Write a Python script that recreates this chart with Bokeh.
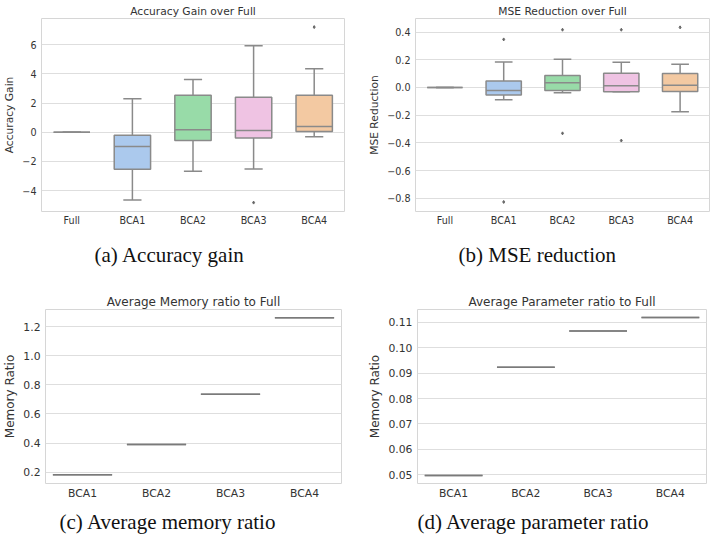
from bokeh.plotting import figure
from bokeh.layouts import column, row
from bokeh.models import ColumnDataSource, FactorRange, Range1d, FixedTicker, Title
from bokeh.transform import dodge
from bokeh.embed import file_html
from bokeh.resources import INLINE

# ---------------- data ----------------
box_cats = ["Full", "BCA1", "BCA2", "BCA3", "BCA4"]
box_colors = ["#abc9ed", "#abc9ed", "#98dba8", "#efc3e3", "#f3c9a2"]

acc_lo = [0.0, -4.65, -2.68, -2.52, -0.32]
acc_q1 = [0.0, -2.54, -0.57, -0.39, 0.05]
acc_med = [0.0, -0.98, 0.16, 0.11, 0.39]
acc_q3 = [0.0, -0.21, 2.54, 2.40, 2.54]
acc_hi = [0.0, 2.29, 3.62, 5.93, 4.35]
acc_out_cat = ["BCA3", "BCA4"]
acc_out_val = [-4.83, 7.21]
acc_ticks = [-4, -2, 0, 2, 4, 6]
acc_tick_labels = ["\u22124", "\u22122", "0", "2", "4", "6"]

mse_lo = [0.0, -0.089, -0.038, -0.031, -0.175]
mse_q1 = [0.0, -0.055, -0.022, -0.031, -0.029]
mse_med = [0.0, -0.022, 0.034, 0.012, 0.017]
mse_q3 = [0.0, 0.046, 0.086, 0.103, 0.101]
mse_hi = [0.0, 0.184, 0.204, 0.182, 0.168]
mse_out_cat = ["BCA1", "BCA1", "BCA2", "BCA2", "BCA3", "BCA3", "BCA4"]
mse_out_val = [0.347, -0.826, 0.417, -0.331, 0.417, -0.383, 0.434]
mse_ticks = [-0.8, -0.6, -0.4, -0.2, 0.0, 0.2, 0.4]
mse_tick_labels = ["\u22120.8", "\u22120.6", "\u22120.4", "\u22120.2", "0.0", "0.2", "0.4"]

ratio_cats = ["BCA1", "BCA2", "BCA3", "BCA4"]
mem_ratio = [0.182, 0.39, 0.735, 1.26]
mem_ticks = [0.2, 0.4, 0.6, 0.8, 1.0, 1.2]
mem_tick_labels = ["0.2", "0.4", "0.6", "0.8", "1.0", "1.2"]

par_ratio = [0.0497, 0.0923, 0.1065, 0.1119]
par_ticks = [0.05, 0.06, 0.07, 0.08, 0.09, 0.10, 0.11]
par_tick_labels = ["0.05", "0.06", "0.07", "0.08", "0.09", "0.10", "0.11"]

EDGE = "#8a8a8a"
TXT = "#333333"
FONT = "DejaVu Sans"
CAP_FONT = "Liberation Serif"


def base_fig(cats, title, ylabel, yr, ticks, tick_labels, fs_tick, fs_title,
             fw, fh, bl, br, bt, bb, caption, cap_offset, cap_standoff):
    p = figure(x_range=FactorRange(*cats), y_range=Range1d(*yr),
               frame_width=fw, frame_height=fh,
               min_border_left=bl, min_border_right=br,
               min_border_top=bt, min_border_bottom=bb,
               output_backend="svg", toolbar_location=None,
               background_fill_color="white", border_fill_color="white")
    p.title.text = title
    p.title.align = "center"
    p.title.text_font = FONT
    p.title.text_font_size = fs_title
    p.title.text_font_style = "normal"
    p.title.text_color = TXT
    p.title.standoff = 2
    p.outline_line_color = "#d6d6d6"
    p.outline_line_width = 1
    p.xgrid.grid_line_color = None
    p.ygrid.grid_line_color = "#dedede"
    p.ygrid.grid_line_width = 1
    p.yaxis.ticker = FixedTicker(ticks=ticks)
    p.yaxis.major_label_overrides = {t: l for t, l in zip(ticks, tick_labels)}
    for ax in (p.xaxis[0], p.yaxis[0]):
        ax.axis_line_color = None
        ax.major_tick_line_color = None
        ax.minor_tick_line_color = None
        ax.major_tick_out = 0
        ax.major_tick_in = 0
        ax.major_label_text_font = FONT
        ax.major_label_text_font_size = fs_tick
        ax.major_label_text_color = TXT
        ax.axis_label_text_font = FONT
        ax.axis_label_text_font_size = fs_title
        ax.axis_label_text_font_style = "normal"
        ax.axis_label_text_color = TXT
    p.xaxis.major_label_standoff = 3
    p.yaxis.major_label_standoff = 5
    p.yaxis.axis_label = ylabel
    p.yaxis.axis_label_standoff = 3
    cap = Title(text=caption, align="left", offset=cap_offset,
                text_font=CAP_FONT, text_font_size="21px",
                text_font_style="normal", text_color="#111111",
                standoff=cap_standoff)
    p.add_layout(cap, "below")
    return p


def box_fig(title, ylabel, lo, q1, med, q3, hi, oc, ov, yr, ticks, tl,
            fw, fh, bl, br, caption, cap_offset):
    p = base_fig(box_cats, title, ylabel, yr, ticks, tl, "9.6px", "10.7px",
                 fw, fh, bl, br, 18, 80, caption, cap_offset, 24)
    src = ColumnDataSource(dict(cat=box_cats, lo=lo, q1=q1, med=med, q3=q3,
                                hi=hi, color=box_colors))
    # whiskers
    p.segment(x0="cat", x1="cat", y0="q3", y1="hi", source=src,
              line_color=EDGE, line_width=1.5)
    p.segment(x0="cat", x1="cat", y0="q1", y1="lo", source=src,
              line_color=EDGE, line_width=1.5)
    # caps
    p.segment(x0=dodge("cat", -0.15, range=p.x_range),
              x1=dodge("cat", 0.15, range=p.x_range),
              y0="hi", y1="hi", source=src, line_color=EDGE, line_width=1.5)
    p.segment(x0=dodge("cat", -0.15, range=p.x_range),
              x1=dodge("cat", 0.15, range=p.x_range),
              y0="lo", y1="lo", source=src, line_color=EDGE, line_width=1.5)
    # boxes
    p.vbar(x="cat", top="q3", bottom="q1", width=0.6, source=src,
           fill_color="color", line_color=EDGE, line_width=1.5)
    # medians
    p.segment(x0=dodge("cat", -0.3, range=p.x_range),
              x1=dodge("cat", 0.3, range=p.x_range),
              y0="med", y1="med", source=src, line_color=EDGE, line_width=1.5)
    # outliers
    p.scatter(x=oc, y=ov, size=3, marker="diamond", color="#666666")
    return p


def ratio_fig(title, vals, yr, ticks, tl, fw, fh, bl, br, caption, cap_offset):
    p = base_fig(ratio_cats, title, "Memory Ratio", yr, ticks, tl, "10.8px",
                 "12px", fw, fh, bl, br, 18, 64, caption, cap_offset, 10)
    src = ColumnDataSource(dict(cat=ratio_cats, v=vals))
    p.vbar(x="cat", top="v", bottom="v", width=0.8, source=src,
           fill_color=None, line_color=EDGE, line_width=1.5)
    p.segment(x0=dodge("cat", -0.4, range=p.x_range),
              x1=dodge("cat", 0.4, range=p.x_range),
              y0="v", y1="v", source=src, line_color="#7a7a7a", line_width=1.5)
    return p


p1 = box_fig("Accuracy Gain over Full", "Accuracy Gain",
             acc_lo, acc_q1, acc_med, acc_q3, acc_hi, acc_out_cat, acc_out_val,
             (-5.44, 7.8), acc_ticks, acc_tick_labels,
             303, 193, 41, 14, "(a) Accuracy gain", 53)
p2 = box_fig("MSE Reduction over Full", "MSE Reduction",
             mse_lo, mse_q1, mse_med, mse_q3, mse_hi, mse_out_cat, mse_out_val,
             (-0.895, 0.498), mse_ticks, mse_tick_labels,
             294, 193, 57, 8, "(b) MSE reduction", 43)
p3 = ratio_fig("Average Memory ratio to Full", mem_ratio, (0.122, 1.317),
               mem_ticks, mem_tick_labels, 296, 174, 43, 19,
               "(c) Average memory ratio", 14)
p4 = ratio_fig("Average Parameter ratio to Full", par_ratio, (0.0466, 0.115),
               par_ticks, par_tick_labels, 289, 174, 57, 13,
               "(d) Average parameter ratio", 0)

layout = column(row(p1, p2), row(p3, p4))
open("out.html", "w").write(file_html(layout, INLINE))
